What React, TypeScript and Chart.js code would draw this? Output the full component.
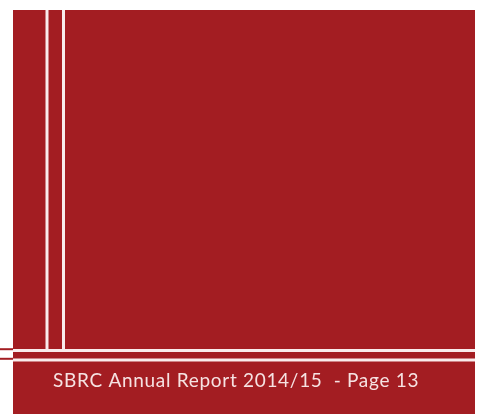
import React, { useEffect, useRef } from "react";
import { Chart, registerables } from "chart.js";

Chart.register(...registerables);

// Page frame geometry (in page units, same as the 479x414 page)
const panelTop = [{ x: 13, y: 10 }, { x: 475, y: 10 }];
const verticalRuleA = [{ x: 47, y: 10 }, { x: 47, y: 349 }];
const verticalRuleB = [{ x: 63.5, y: 10 }, { x: 63.5, y: 349 }];
const horizontalRuleA = [{ x: 13, y: 350.5 }, { x: 475, y: 350.5 }];
const horizontalRuleB = [{ x: 13, y: 360 }, { x: 475, y: 360 }];
const leftStubA = [{ x: 0, y: 349.2 }, { x: 13, y: 349.2 }];
const leftStubB = [{ x: 0, y: 358.8 }, { x: 13, y: 358.8 }];
const footerText = "SBRC Annual Report 2014/15  - Page 13";
const footerPos = { x: 53, y: 387 };

const RED = "#a31d22";
const WHITE = "#f9ecec";

const footerPlugin = {
  id: "footerText",
  afterDatasetsDraw(chart: any) {
    const { ctx, scales } = chart;
    ctx.save();
    ctx.font = "19px Lato, 'Open Sans', sans-serif";
    (ctx as any).letterSpacing = "0.7px";
    ctx.fillStyle = "#f6e2e2";
    ctx.textBaseline = "alphabetic";
    ctx.textAlign = "left";
    ctx.fillText(
      footerText,
      scales.x.getPixelForValue(footerPos.x),
      scales.y.getPixelForValue(footerPos.y)
    );
    ctx.restore();
  },
};

export default function App() {
  const ref = useRef<HTMLCanvasElement | null>(null);
  useEffect(() => {
    if (!ref.current) return;
    const line = (data: any[], color: string, width: number, extra: any = {}) => ({
      data,
      borderColor: color,
      borderWidth: width,
      pointRadius: 0,
      fill: false,
      clip: false as any,
      borderCapStyle: "butt",
      order: 0,
      ...extra,
    });
    const chart = new Chart(ref.current, {
      type: "line",
      data: {
        datasets: [
          line(panelTop, RED, 0, { fill: "start", backgroundColor: RED, order: 10 }),
          line(verticalRuleA, WHITE, 3),
          line(verticalRuleB, WHITE, 3),
          line(horizontalRuleA, WHITE, 3),
          line(horizontalRuleB, WHITE, 3),
          line(leftStubA, RED, 2),
          line(leftStubB, RED, 2),
        ] as any,
      },
      options: {
        animation: false,
        responsive: false,
        maintainAspectRatio: false,
        layout: { padding: 0 },
        plugins: {
          legend: { display: false },
          tooltip: { enabled: false },
          title: { display: false },
          filler: { drawTime: "beforeDatasetsDraw" } as any,
        },
        scales: {
          x: { type: "linear", min: 0, max: 479, display: false },
          y: { type: "linear", min: 0, max: 414, reverse: true, display: false },
        },
      },
      plugins: [footerPlugin],
    });
    return () => chart.destroy();
  }, []);
  return (
    <div style={{ position: "absolute", left: 0, top: 0, width: 479, height: 414, background: "#fff" }}>
      <canvas ref={ref} width={479} height={414} style={{ display: "block" }} />
    </div>
  );
}
